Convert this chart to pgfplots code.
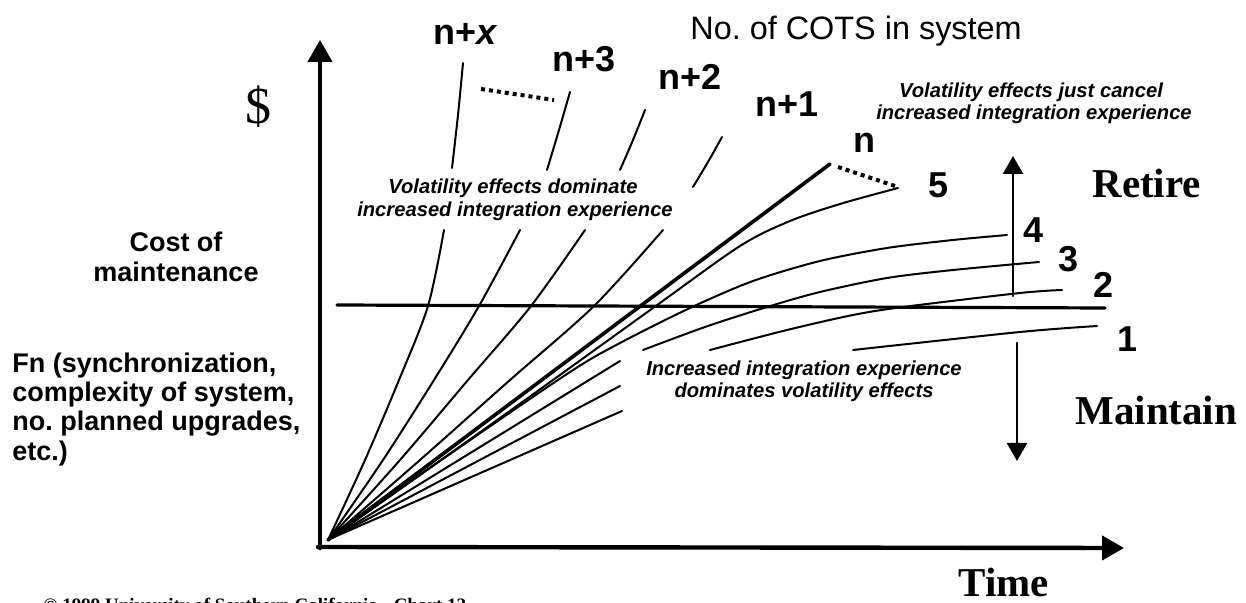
\documentclass[border=0pt]{standalone}
\usepackage{fontspec}
\setmainfont{Liberation Serif}
\newfontfamily\arial{Liberation Sans}
\usepackage{pgfplots}
\pgfplotsset{compat=1.18}
\usetikzlibrary{arrows.meta}
\newcommand\fs[2]{\fontsize{#1}{#2}\selectfont}
\frenchspacing
\tikzset{
  thin curve/.style={line width=1pt, smooth, tension=0.5},
  lab/.style={inner sep=0pt, font=\arial\bfseries\fs{18}{20}},
  ann/.style={inner sep=0pt, font=\arial\bfseries\itshape\fs{10.1}{12}},
}
\begin{document}
\begin{tikzpicture}
\begin{axis}[x=0.5pt, y=0.5pt, y dir=reverse,
  xmin=0, xmax=1246, ymin=0, ymax=603,
  hide axis, clip=false,
  every axis plot/.append style={line cap=round, line join=round},
]
% invisible frame for bounding box
\addplot[draw=none] coordinates {(0,0) (1246,603)};

% axes
\addplot[line width=2.2pt, -{Triangle[width=12pt,length=11pt]}] coordinates {(320,548) (320,40)};
\addplot[line width=2.2pt, -{Triangle[width=12pt,length=11pt]}] coordinates {(318,547) (1124,548)};

% threshold line
\addplot[line width=1.6pt] coordinates {(337,305) (1105,308)};

% Retire / Maintain arrows
\addplot[line width=1.3pt, -{Triangle[width=10pt,length=9pt]}] coordinates {(1013,296) (1013,156)};
\addplot[line width=1.3pt, -{Triangle[width=10pt,length=9pt]}] coordinates {(1017,343) (1017,461)};

% n+x
\addplot[thin curve] coordinates {(328,540) (365,460) (399,380) (428,306) (444,230)};
\addplot[thin curve] coordinates {(452,168) (458,115) (463,63)};
% n+3
\addplot[thin curve] coordinates {(328,540) (383,460) (434,380) (479,306) (520,230)};
\addplot[thin curve] coordinates {(547,170) (559,130) (570,92)};
% n+2
\addplot[thin curve] coordinates {(328,540) (400,460) (468,380) (531,306) (585,230)};
\addplot[thin curve] coordinates {(620,170) (633,140) (645,110)};
% n+1
\addplot[thin curve] coordinates {(328,540) (420,460) (510,380) (594,306) (663,230)};
\addplot[thin curve] coordinates {(693,187) (708,162) (722,137)};
% n (thick)
\addplot[line width=1.8pt] coordinates {(328,540) (830,164)};
% 5
\addplot[thin curve] coordinates {(328,540) (500,418) (653,308) (740,246) (790,221) (840,204) (898,188)};
% 4
\addplot[thin curve] coordinates {(328,540) (450,454) (570,372) (620,343) (690,308) (753,281) (820,261) (887,248) (953,240) (1007,235)};
% 3
\addplot[thin curve] coordinates {(332,538) (620,361)};
\addplot[thin curve] coordinates {(643,350) (705,327) (767,307) (820,292) (887,278) (953,270) (1039,262)};
% 2
\addplot[thin curve] coordinates {(332,538) (620,386)};
\addplot[thin curve] coordinates {(710,350) (787,330) (853,315) (903,307) (1020,293) (1062,290)};
% 1
\addplot[thin curve] coordinates {(332,538) (622,411)};
\addplot[thin curve] coordinates {(853,350) (1020,332) (1097,326)};

% dotted connectors
\addplot[line width=2pt, dash pattern=on 2pt off 2pt, line cap=butt] coordinates {(481,89) (554,100)};
\addplot[line width=2pt, dash pattern=on 2pt off 2pt, line cap=butt] coordinates {(838,167) (898,187)};

% labels
\node[lab, anchor=base west] at (433,45) {n+\textit{x}};
\node[lab, anchor=base west] at (552,72) {n+3};
\node[lab, anchor=base west] at (658,90) {n+2};
\node[lab, anchor=base west] at (755,117) {n+1};
\node[lab, anchor=base west] at (853,153) {n};
\node[lab, anchor=base west] at (928,198) {5};
\node[lab, anchor=base west] at (1023,243) {4};
\node[lab, anchor=base west] at (1058,272) {3};
\node[lab, anchor=base west] at (1093,298) {2};
\node[lab, anchor=base west] at (1117,352) {1};

\node[inner sep=0pt, anchor=base west, font=\arial\fs{16.2}{19}] at (690,40) {No. of COTS in system};
\node[inner sep=0pt, font=\fs{26}{28}] at (258,107) {\$};

\node[ann, anchor=base] at (513,194) {Volatility effects dominate};
\node[ann, anchor=base] at (515,217) {increased integration experience};
\node[ann, anchor=base] at (1031,98) {Volatility effects just cancel};
\node[ann, anchor=base] at (1034,120) {increased integration experience};
\node[ann, anchor=base] at (804,376) {Increased integration experience};
\node[ann, anchor=base] at (804,398) {dominates volatility effects};

\node[inner sep=0pt, anchor=base, font=\arial\bfseries\fs{13.5}{15}] at (176,252) {Cost of};
\node[inner sep=0pt, anchor=base, font=\arial\bfseries\fs{13.5}{15}] at (176,282) {maintenance};
\node[inner sep=0pt, anchor=base west, font=\arial\bfseries\fs{13.5}{15}] at (12,373) {Fn (synchronization,};
\node[inner sep=0pt, anchor=base west, font=\arial\bfseries\fs{13.5}{15}] at (12,402) {complexity of system,};
\node[inner sep=0pt, anchor=base west, font=\arial\bfseries\fs{13.5}{15}] at (12,431) {no. planned upgrades,};
\node[inner sep=0pt, anchor=base west, font=\arial\bfseries\fs{13.5}{15}] at (12,460) {etc.)};

\node[inner sep=0pt, anchor=base west, font=\bfseries\fs{20.5}{22}] at (1092,198) {Retire};
\node[inner sep=0pt, anchor=base west, font=\bfseries\fs{20.5}{22}] at (1075,425) {Maintain};
\node[inner sep=0pt, anchor=base west, font=\bfseries\fs{20.5}{22}] at (958,596) {Time};

\node[overlay, inner sep=0pt, anchor=base west, font=\bfseries\fs{9.5}{11}] at (43,611) {© 1999 University of Southern California - Chart 12};
\end{axis}
\end{tikzpicture}
\end{document}
